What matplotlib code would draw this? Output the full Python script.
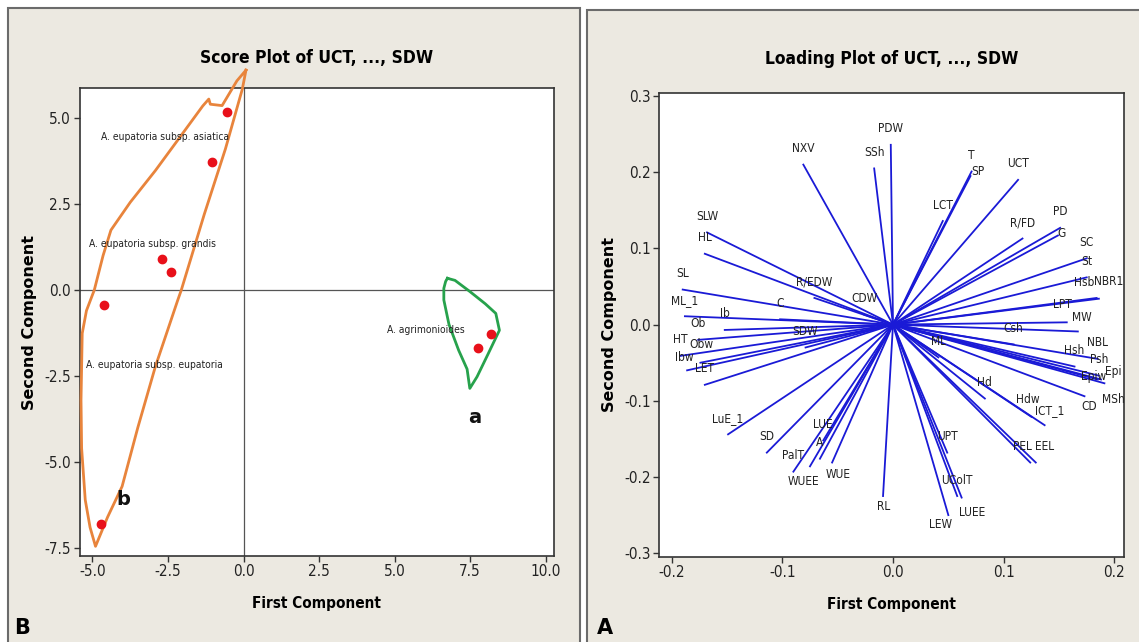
import matplotlib
matplotlib.use('Agg')
import matplotlib.pyplot as plt
from matplotlib import font_manager
from matplotlib.patches import Rectangle


# score plot data (first / second component)
score_pc1 = [-0.54, -1.04, -2.71, -2.39, -4.62, -4.72, 7.76, 8.19]
score_pc2 = [5.16, 3.72, 0.90, 0.52, -0.43, -6.80, -1.68, -1.29]

group_labels = ["A. eupatoria subsp. asiatica", "A. eupatoria subsp. grandis",
                "A. eupatoria subsp. eupatoria", "A. agrimonioides"]
group_label_x = [-2.61, -3.0, -2.94, 6.02]
group_label_y = [4.46, 1.35, -2.18, -1.17]

cluster_names = ["b", "a"]
cluster_x = [-3.98, 7.65]
cluster_y = [-6.08, -3.70]

# hand drawn outlines round the two clusters
orange_x = [0.08, -0.04, -0.6, -1.3, -2.06, -2.18, -2.92, -3.5, -4.02, -4.5, -4.90,
            -5.08, -5.24, -5.36, -5.38, -5.34, -5.2, -4.94, -4.65, -4.39, -3.75, -2.92,
            -2.1, -1.35, -1.15, -1.1, -0.71, -0.22, 0.08]
orange_y = [6.39, 5.84, 4.1, 2.2, 0.0, -0.30, -2.23, -4.0, -5.71, -6.6, -7.45,
            -6.9, -6.10, -4.6, -3.2, -1.26, -0.6, 0.0, 1.0, 1.74, 2.55, 3.47,
            4.45, 5.35, 5.55, 5.40, 5.36, 6.08, 6.39]
green_x = [6.75, 7.0, 7.5, 8.0, 8.35, 8.47, 8.1, 7.73, 7.49, 7.4, 7.12, 6.8, 6.63, 6.63, 6.69, 6.75]
green_y = [0.34, 0.28, -0.05, -0.4, -0.68, -1.17, -1.85, -2.52, -2.86, -2.3, -1.75, -1.0, -0.29, 0.05, 0.25, 0.34]

# loading plot data
variables = ["NXV", "SSh", "PDW", "SLW", "HL", "SL", "ML_1", "R/EDW", "CDW", "C",
             "Ib", "Ob", "HT", "Obw", "Ibw", "LET", "SDW", "LuE_1", "SD", "PalT",
             "WUEE", "A", "LUE", "WUE", "RL", "T", "SP", "LCT", "UCT", "R/FD",
             "PD", "G", "SC", "St", "Hsb", "NBR1", "LPT", "MW", "Csh", "ML",
             "NBL", "Hsh", "Psh", "Epi", "Epiw", "CD", "MSh", "Hd", "Hdw", "ICT_1",
             "PEL", "EEL", "UPT", "UColT", "LUEE", "LEW"]
loading_pc1 = [-0.081, -0.017, -0.002, -0.168, -0.170, -0.190, -0.188, -0.071, -0.026, -0.102,
               -0.152, -0.176, -0.192, -0.174, -0.186, -0.170, -0.079, -0.149, -0.114, -0.090,
               -0.075, -0.066, -0.063, -0.055, -0.009, 0.071, 0.070, 0.045, 0.113, 0.117,
               0.151, 0.149, 0.175, 0.175, 0.186, 0.184, 0.157, 0.167, 0.109, 0.041,
               0.185, 0.164, 0.186, 0.188, 0.185, 0.173, 0.191, 0.083, 0.125, 0.137,
               0.124, 0.129, 0.049, 0.058, 0.062, 0.050]
loading_pc2 = [0.210, 0.205, 0.236, 0.121, 0.093, 0.046, 0.011, 0.035, 0.013, 0.007,
               -0.007, -0.020, -0.041, -0.050, -0.060, -0.079, -0.030, -0.144, -0.168, -0.193,
               -0.186, -0.176, -0.152, -0.181, -0.225, 0.201, 0.195, 0.136, 0.190, 0.113,
               0.127, 0.117, 0.087, 0.062, 0.034, 0.035, 0.003, -0.009, -0.026, -0.043,
               -0.045, -0.055, -0.067, -0.072, -0.072, -0.094, -0.077, -0.097, -0.121, -0.132,
               -0.181, -0.181, -0.168, -0.225, -0.227, -0.250]

# label placement (pixels right, pixels down from the end of the vector)
label_shift = {"G": (4, -2), "SP": (7, -5), "RL": (1, 10), "WUEE": (-7, 15),
               "WUE": (6, 12), "LEW": (-8, 9), "LUEE": (11, 15), "CD": (5, 10),
               "MSh": (9, 16), "Epi": (12, -8), "Epiw": (-4, -3),
               "Hsb": (-15, -16), "NBR1": (12, -16), "PEL": (-8, -16), "EEL": (9, -16),
               "Hdw": (-4, -17), "ICT_1": (5, -15), "Obw": (1, -18), "Ibw": (-3, -13),
               "LPT": (-4, -18), "MW": (4, -14)}
default_shift = (0, -16)

# condensed face if the system has one, else shrink the plain one
condensed = any(f.name == "DejaVu Sans" and f.stretch == "condensed"
                for f in font_manager.fontManager.ttflist)
narrow = dict(family="DejaVu Sans", fontstretch="condensed")
small = 1.0 if condensed else 0.82

W, H = 1139, 642
fig = plt.figure(figsize=(W / 100, H / 100), dpi=100, facecolor="white")

panel_bg = "#ECE9E1"
fig.patches.append(Rectangle((8 / W, -0.01), 572 / W, 1.01 - 8 / H, transform=fig.transFigure,
                             facecolor=panel_bg, edgecolor="#6b6b6b", lw=1.5, zorder=-5))
fig.patches.append(Rectangle((587 / W, -0.01), 560 / W, 1.01 - 10 / H, transform=fig.transFigure,
                             facecolor=panel_bg, edgecolor="#6b6b6b", lw=1.5, zorder=-5))

ax1 = fig.add_axes([79.5 / W, 1 - 555.6 / H, 474.3 / W, 467.2 / H])
ax2 = fig.add_axes([659 / W, 1 - 557 / H, 465 / W, 464 / H])


def style_axes(ax):
    ax.set_facecolor("white")
    for s in ax.spines.values():
        s.set_color("#333333")
        s.set_linewidth(1.2)
    ax.tick_params(direction="out", length=4, width=1, color="#333333", pad=2)
    for lab in ax.get_xticklabels() + ax.get_yticklabels():
        lab.set_fontstretch("condensed")
        lab.set_fontsize(11 * small)
        lab.set_color("#222222")


# ---- score plot ----
ax1.axhline(0, color="#555555", lw=0.9, zorder=1)
ax1.axvline(0, color="#555555", lw=0.9, zorder=1)
ax1.plot(orange_x, orange_y, color="#E8843C", lw=2, clip_on=False, zorder=3)
ax1.plot(green_x, green_y, color="#27A24C", lw=2, clip_on=False, zorder=3)
ax1.scatter(score_pc1, score_pc2, s=36, color="#E8101A", zorder=4)
for txt, x, y in zip(group_labels, group_label_x, group_label_y):
    ax1.text(x, y, txt, ha="center", va="center", fontsize=7.4 * small,
             color="#222222", zorder=5, **narrow)
for txt, x, y in zip(cluster_names, cluster_x, cluster_y):
    ax1.text(x, y, txt, ha="center", va="center", fontsize=14, fontweight="bold",
             color="#111111", zorder=5)
ax1.set_xlim(-5.43, 10.27)
ax1.set_ylim(-7.72, 5.86)
ax1.set_xticks([-5.0, -2.5, 0.0, 2.5, 5.0, 7.5, 10.0])
ax1.set_yticks([-7.5, -5.0, -2.5, 0.0, 2.5, 5.0])
ax1.set_xticklabels(["-5.0", "-2.5", "0.0", "2.5", "5.0", "7.5", "10.0"])
ax1.set_yticklabels(["-7.5", "-5.0", "-2.5", "0.0", "2.5", "5.0"])
style_axes(ax1)
ax1.set_title("Score Plot of UCT, ..., SDW", fontsize=12.5 * small, fontweight="bold",
              pad=18, **narrow)

# ---- loading plot ----
for name, x, y in zip(variables, loading_pc1, loading_pc2):
    ax2.plot([0, x], [0, y], color="#1a1ad6", lw=1.3, zorder=2)
    dx, dy = label_shift.get(name, default_shift)
    ax2.annotate(name, (x, y), xytext=(dx * 0.72, -dy * 0.72), textcoords="offset points",
                 ha="center", va="center", fontsize=8.6 * small,
                 color="#222222", zorder=3, **narrow)
ax2.set_xlim(-0.2114, 0.2087)
ax2.set_ylim(-0.305, 0.304)
ax2.set_xticks([-0.2, -0.1, 0.0, 0.1, 0.2])
ax2.set_yticks([-0.3, -0.2, -0.1, 0.0, 0.1, 0.2, 0.3])
ax2.set_xticklabels(["-0.2", "-0.1", "0.0", "0.1", "0.2"])
ax2.set_yticklabels(["-0.3", "-0.2", "-0.1", "0.0", "0.1", "0.2", "0.3"])
style_axes(ax2)
ax2.set_title("Loading Plot of UCT, ..., SDW", fontsize=12.5 * small, fontweight="bold",
              pad=21, **narrow)

for ax in (ax1, ax2):
    ax.set_xlabel("First Component", fontsize=11 * small, fontweight="bold",
                  labelpad=12, **narrow)
    ax.set_ylabel("Second Component", fontsize=11.5, fontweight="bold", labelpad=5)

fig.text(22 / W, 1 - 628 / H, "B", fontsize=15, fontweight="bold", ha="center", va="center")
fig.text(605 / W, 1 - 628 / H, "A", fontsize=15, fontweight="bold", ha="center", va="center")

fig.savefig("out.png", dpi=100, facecolor=fig.get_facecolor())
